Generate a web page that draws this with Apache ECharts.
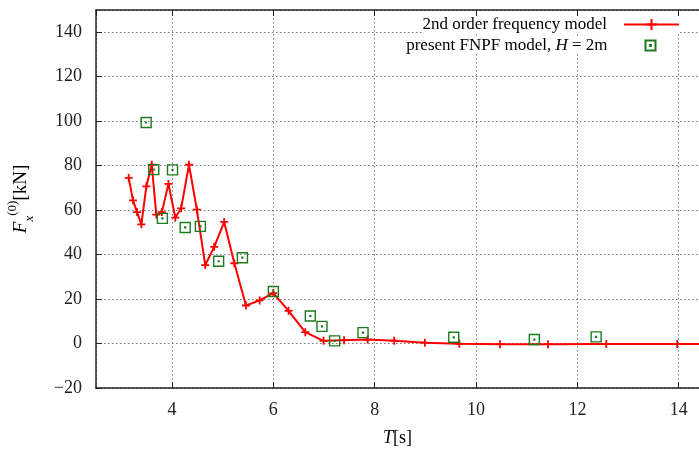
<!DOCTYPE html>
<html>
<head>
<meta charset="utf-8">
<script src="https://cdn.jsdelivr.net/npm/echarts@6/dist/echarts.min.js"></script>
<style>html,body{margin:0;padding:0;background:#fff}#c{width:699px;height:455px}</style>
</head>
<body>
<div id="c"></div>
<script>
// 2nd order frequency model
const modelT = [3.145, 3.23, 3.31, 3.395, 3.494, 3.60, 3.69, 3.80, 3.93, 4.065, 4.18, 4.335, 4.49, 4.656, 4.833, 5.03, 5.23, 5.46, 5.73, 6.00, 6.30, 6.63, 6.99, 7.395, 7.86, 8.385, 8.99, 9.67, 10.47, 11.42, 12.57, 13.97, 15.6];
const modelF = [74.5, 64.4, 59.1, 53.6, 70.7, 80.4, 58.0, 59.1, 71.8, 56.6, 60.8, 80.4, 60.2, 35.3, 43.5, 54.7, 36.1, 17.1, 19.4, 22.7, 14.7, 5.1, 1.2, 1.5, 1.8, 1.3, 0.4, -0.1, -0.3, -0.3, -0.2, -0.2, -0.2];
// present FNPF model, H = 2m
const fnpfT = [3.49, 3.64, 3.81, 4.01, 4.26, 4.56, 4.92, 5.39, 6.00, 6.73, 6.96, 7.21, 7.77, 9.56, 11.15, 12.37];
const fnpfF = [99.4, 78.2, 56.3, 78.1, 52.2, 52.7, 37.0, 38.6, 23.4, 12.4, 7.7, 1.2, 4.9, 2.8, 1.8, 3.0];

const FONT = 'Liberation Serif';
const plusPath = 'path://M5,0 L5,10 M0,5 L10,5';
const boxPath = 'path://M0,0 L10,0 L10,10 L0,10 Z M4.6,4.6 L5.4,4.6 L5.4,5.4 L4.6,5.4 Z';

const chart = echarts.init(document.getElementById('c'), null, {renderer: 'canvas'});
const gridLine = {show: true, lineStyle: {color: '#7a7a7a', type: [1.5, 2.5], width: 1}};
const minus = v => String(v).replace('-', '\u2212');
chart.setOption({
  animation: false,
  backgroundColor: '#fff',
  textStyle: {fontFamily: FONT},
  grid: {left: 96, right: 0, top: 10, bottom: 67, containLabel: false, outerBoundsMode: 'none'},
  legend: [{
    data: [{name: '2nd order frequency model'}],
    orient: 'vertical', align: 'right', right: 19, top: 16,
    itemWidth: 55, itemHeight: 14,
    textStyle: {fontFamily: FONT, fontSize: 17, color: '#000', padding: [0, 12, 0, 0]},
    backgroundColor: '#fff', padding: [0, 0, 0, 0], selectedMode: false
  }, {
    data: [{name: 'fnpf'}],
    orient: 'vertical', align: 'right', right: 41, top: 37,
    itemWidth: 10, itemHeight: 10,
    formatter: () => 'present FNPF model, {i|H} = 2m',
    textStyle: {fontFamily: FONT, fontSize: 17, color: '#000', padding: [0, 33, 0, 0],
      rich: {i: {fontFamily: FONT, fontSize: 17, fontStyle: 'italic'}}},
    backgroundColor: '#fff', padding: [0, 0, 0, 0], selectedMode: false
  }],
  xAxis: [{
    type: 'value', min: 2.5, max: 14.4, splitNumber: 6,
    name: '{i|T}[s]', nameLocation: 'middle', nameGap: 41,
    nameTextStyle: {fontFamily: FONT, fontSize: 18, color: '#000',
      rich: {i: {fontFamily: FONT, fontSize: 18, fontStyle: 'italic', color: '#000'}}},
    axisLine: {show: true, onZero: false, lineStyle: {color: '#222', width: 1.5}},
    axisTick: {show: true, inside: true, length: 6, lineStyle: {color: '#222'}},
    axisLabel: {fontFamily: FONT, fontSize: 18, color: '#222', margin: 13, showMinLabel: false, showMaxLabel: false},
    splitLine: gridLine
  }, {
    type: 'value', min: 2.5, max: 14.4, splitNumber: 6, position: 'top',
    axisLine: {show: true, onZero: false, lineStyle: {color: '#222', width: 1.5}},
    axisTick: {show: true, inside: true, length: 6, lineStyle: {color: '#222'}},
    axisLabel: {show: false}, splitLine: {show: false}
  }],
  yAxis: [{
    type: 'value', min: -20, max: 150, interval: 20,
    name: '{f|F}{sub|x}{sup|(0)}{n|[kN]}', nameLocation: 'middle', nameGap: 60, nameRotate: 90,
    nameTextStyle: {fontFamily: FONT, color: '#000',
      rich: {
        f: {fontFamily: FONT, fontSize: 19, fontStyle: 'italic', lineHeight: 30, color: '#000'},
        sub: {fontFamily: FONT, fontSize: 13, fontStyle: 'italic', lineHeight: 12, verticalAlign: 'bottom', color: '#000'},
        sup: {fontFamily: FONT, fontSize: 13, lineHeight: 12, verticalAlign: 'top', color: '#000'},
        n: {fontFamily: FONT, fontSize: 19, lineHeight: 30, color: '#000'}
      }},
    axisLine: {show: true, onZero: false, lineStyle: {color: '#222', width: 1.5}},
    axisTick: {show: true, inside: true, length: 6, lineStyle: {color: '#222'}},
    axisLabel: {fontFamily: FONT, fontSize: 18, color: '#222', margin: 14, showMaxLabel: false, formatter: minus},
    splitLine: gridLine
  }],
  series: [{
    name: '2nd order frequency model', type: 'line',
    data: modelT.map((t, i) => [t, modelF[i]]),
    symbol: plusPath, symbolSize: 8,
    lineStyle: {color: '#ff0000', width: 2},
    itemStyle: {color: 'none', borderColor: '#ff0000', borderWidth: 1.8},
    z: 3
  }, {
    name: 'fnpf', type: 'scatter',
    data: fnpfT.map((t, i) => [t, fnpfF[i]]),
    symbol: boxPath, symbolSize: 10,
    itemStyle: {color: 'none', borderColor: '#1c7a1c', borderWidth: 1.4, opacity: 1},
    z: 4
  }]
});
</script>
</body>
</html>
